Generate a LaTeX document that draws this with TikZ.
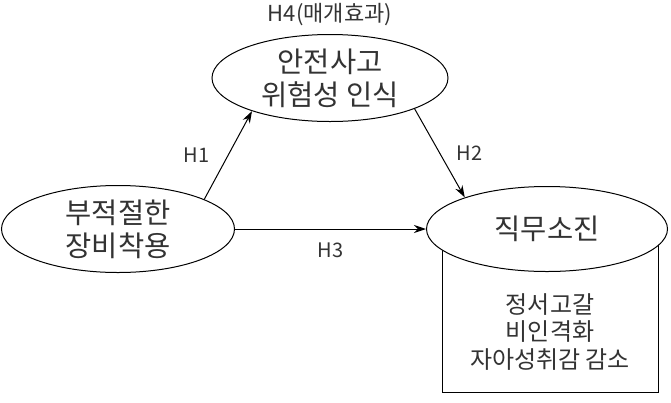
\documentclass[tikz,border=0pt]{standalone}
\usepackage{fontspec}
\setmainfont{Noto Sans CJK KR}
\usepackage{xcolor}
\usepackage{tikz}
\usetikzlibrary{arrows.meta,shapes.geometric,positioning}

\begin{document}
\begin{tikzpicture}[
    x = 1pt, y = 1pt,
    > = {Stealth[length=12pt, width=8pt]}, % arrow head style
    node distance = 100pt, % distance between nodes
    on grid,
    line width = 1pt % line style
]
\tikzstyle{factor}=[
    ellipse,
    draw = black,
    fill = white,
    inner sep = 0pt,
    align = center,
    text = black!80,
    font = \fontsize{28.5}{33}\selectfont
]
\tikzstyle{label}=[
    text = black!80,
    font = \fontsize{20}{24}\selectfont
]
\useasboundingbox (0,0) rectangle (671,-402);

% facet box behind the outcome
\node[draw = black, minimum width = 216pt, minimum height = 162pt] (facets) at (550,-311) {};
\node[text = black!80, align = center, font = \fontsize{24}{27.5}\selectfont] (facettext) [below=21pt of facets] {정서고갈\\비인격화\\자아성취감 감소};

\node[factor, minimum width = 233pt, minimum height = 87pt] (gear) at (118,-229) {부적절한\\장비착용};
\node[factor, minimum width = 236pt, minimum height = 87pt] (risk) [above right=151pt and 212pt of gear] {안전사고\\위험성 인식};
\node[factor, minimum width = 241pt, minimum height = 85pt] (burnout) [right=429pt of gear] {직무소진};

\node[label, font = \fontsize{22}{24}\selectfont] (h4) [above=63pt of risk] {H4(매개효과)};

\draw[->] (gear.19) -- node[label, left=15pt] (h1) {H1} (risk.203);
\draw[->] (risk.-20) -- node[label, right=13pt] (h2) {H2} (burnout.159);
\draw[->] (gear.east) -- node[label, below=10pt] (h3) {H3} (burnout.west);

\end{tikzpicture}
\end{document}
